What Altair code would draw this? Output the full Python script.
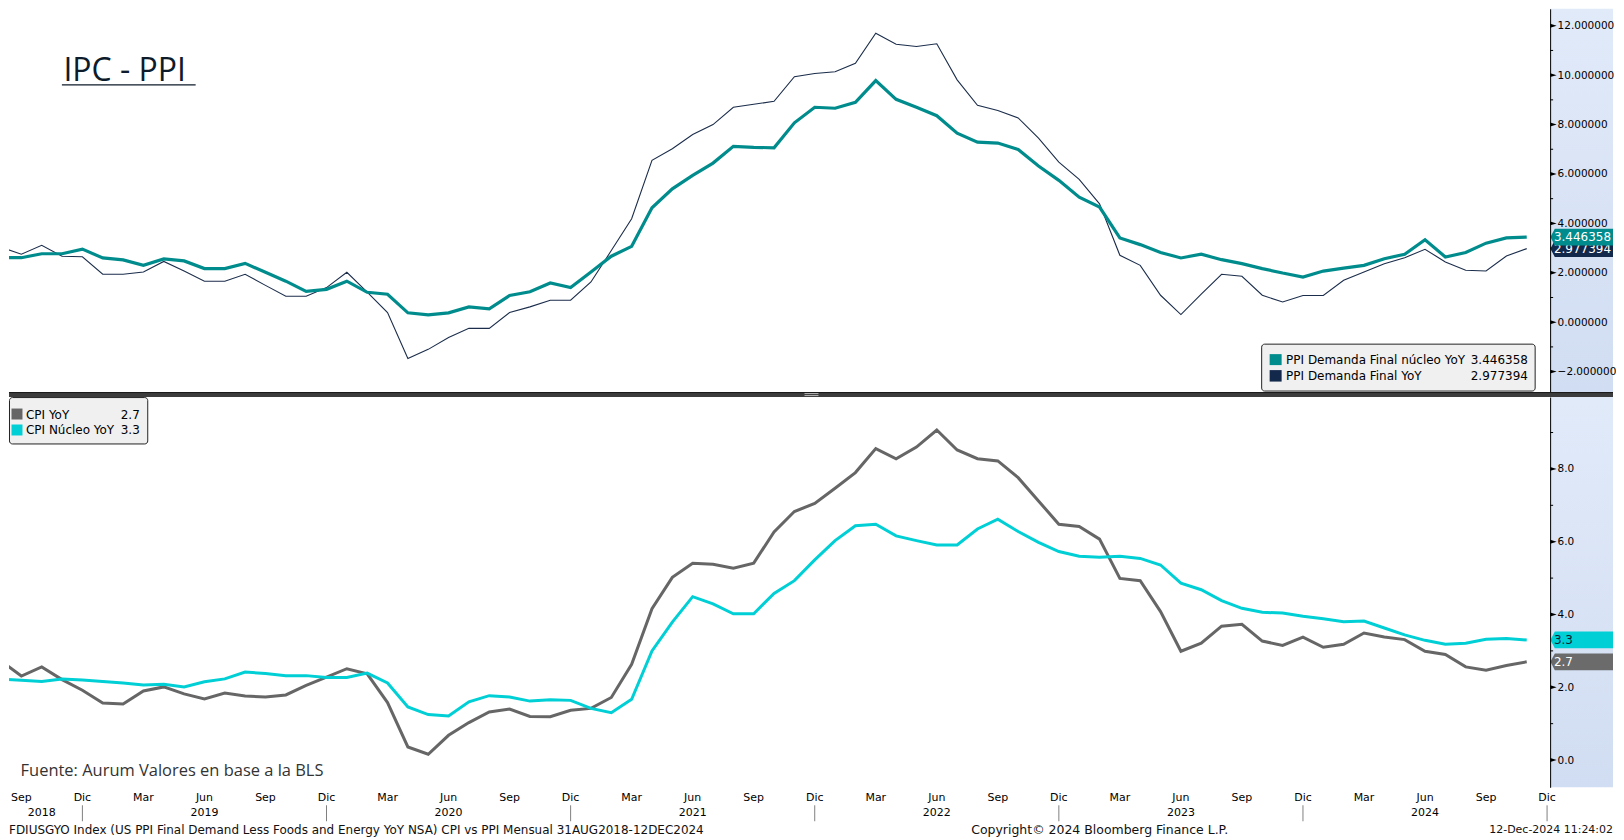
import altair as alt
import pandas as pd

# ---------------- data (monthly, Aug 2018 .. Nov 2024) ----------------
MONTHS_ES = ["Ene", "Feb", "Mar", "Abr", "May", "Jun", "Jul", "Ago", "Sep", "Oct", "Nov", "Dic"]
START_MONTH = 8  # first observation: Aug 2018

PPI_CORE = [2.61, 2.61, 2.77, 2.77, 2.96,
            2.60, 2.52, 2.30, 2.56, 2.48, 2.17, 2.17, 2.38, 2.02, 1.66, 1.25, 1.33,
            1.66, 1.21, 1.13, 0.38, 0.30, 0.38, 0.62, 0.54, 1.08, 1.23, 1.59, 1.40,
            2.03, 2.67, 3.07, 4.63, 5.40, 5.94, 6.44, 7.12, 7.08, 7.06, 8.07, 8.70,
            8.66, 8.90, 9.78, 9.02, 8.70, 8.36, 7.65, 7.29, 7.25, 6.99, 6.32, 5.74,
            5.06, 4.66, 3.41, 3.14, 2.82, 2.60, 2.75, 2.53, 2.37, 2.17, 1.99, 1.83,
            2.07, 2.19, 2.30, 2.57, 2.75, 3.34, 2.64, 2.82, 3.20, 3.41, 3.446358]
PPI_FD = [3.04, 2.75, 3.11, 2.67, 2.65,
          1.94, 1.94, 2.03, 2.46, 2.07, 1.66, 1.66, 1.94, 1.49, 1.05, 1.05, 1.40,
          2.02, 1.22, 0.39, -1.47, -1.10, -0.62, -0.25, -0.25, 0.39, 0.62, 0.89, 0.89,
          1.63, 2.90, 4.19, 6.55, 7.02, 7.60, 8.00, 8.70, 8.82, 8.94, 9.94, 10.07,
          10.14, 10.48, 11.70, 11.25, 11.16, 11.27, 9.81, 8.78, 8.57, 8.27, 7.45, 6.48,
          5.78, 4.79, 2.71, 2.30, 1.09, 0.31, 1.14, 1.94, 1.86, 1.09, 0.82, 1.08,
          1.08, 1.70, 2.03, 2.37, 2.61, 2.95, 2.44, 2.10, 2.07, 2.68, 2.977394]
CPI = [2.72, 2.31, 2.56, 2.21, 1.92,
       1.57, 1.54, 1.90, 2.01, 1.82, 1.68, 1.84, 1.76, 1.73, 1.79, 2.05, 2.28,
       2.51, 2.37, 1.58, 0.36, 0.16, 0.68, 1.03, 1.32, 1.40, 1.20, 1.19, 1.37,
       1.42, 1.72, 2.63, 4.16, 5.02, 5.41, 5.38, 5.27, 5.41, 6.27, 6.83, 7.05,
       7.47, 7.90, 8.56, 8.28, 8.60, 9.07, 8.52, 8.28, 8.22, 7.76, 7.12, 6.48,
       6.42, 6.07, 4.99, 4.93, 4.08, 2.99, 3.21, 3.68, 3.73, 3.27, 3.15, 3.38,
       3.10, 3.18, 3.49, 3.38, 3.31, 2.99, 2.90, 2.56, 2.47, 2.60, 2.7]
CPI_CORE = [2.23, 2.19, 2.16, 2.23, 2.20,
            2.16, 2.12, 2.06, 2.08, 2.01, 2.15, 2.23, 2.42, 2.38, 2.32, 2.32, 2.27,
            2.27, 2.39, 2.12, 1.46, 1.25, 1.21, 1.60, 1.77, 1.73, 1.62, 1.66, 1.64,
            1.42, 1.30, 1.67, 3.00, 3.79, 4.49, 4.29, 4.02, 4.02, 4.58, 4.93, 5.50,
            6.03, 6.44, 6.48, 6.16, 6.03, 5.91, 5.91, 6.35, 6.62, 6.28, 5.98, 5.73,
            5.60, 5.57, 5.60, 5.54, 5.36, 4.86, 4.68, 4.38, 4.17, 4.06, 4.04, 3.95,
            3.88, 3.80, 3.82, 3.63, 3.44, 3.29, 3.18, 3.21, 3.32, 3.34, 3.3]

SERIES_TOP = ["PPI Demanda Final núcleo YoY", "PPI Demanda Final YoY"]
SERIES_BOT = ["CPI YoY", "CPI Núcleo YoY"]

TICK_IDX = list(range(1, 77))                      # month ticks Sep 2018 .. Dic 2024
QUARTER_IDX = list(range(1, 77, 3))                # Sep, Dic, Mar, Jun ...
YEAR_LABELS = ["2018", "2019", "2020", "2021", "2022", "2023", "2024"]
YEAR_LABEL_IDX = [2, 10, 22, 34, 46, 58, 70]
YEAR_SEP_IDX = [4, 16, 28, 40, 52, 64, 76]
TOP_MAJOR = [-2, 0, 2, 4, 6, 8, 10, 12]
TOP_MINOR = [-1, 1, 3, 5, 7, 9, 11]
BOT_MAJOR = [0, 2, 4, 6, 8]
BOT_MINOR = [1, 3, 5, 7, 9]

TITLE = "IPC - PPI"
SOURCE = "Fuente: Aurum Valores en base a la BLS"
FOOT_LEFT = "FDIUSGYO Index (US PPI Final Demand Less Foods and Energy YoY NSA) CPI vs PPI  Mensual 31AUG2018-12DEC2024"
FOOT_MID = "Copyright\u00a9 2024 Bloomberg Finance L.P."
FOOT_RIGHT = "12-Dec-2024 11:24:02"

# ---------------- style ----------------
FONT = "DejaVu Sans"
TFONT = "Open Sans"
TEAL = "#008c8c"
NAVY = "#1b2d4b"
NAVY_TAG = "#13294b"
GRAY = "#666666"
CYAN = "#00cfd5"
W = 1544
H_TOP = 384
H_BOT = 391
RIGHT = 1607                                        # last usable x (page ~1615)
X_DOMAIN = [0.392, 76.15]
TOP_DOMAIN = [-2.828, 12.687]
BOT_DOMAIN = [-0.749, 9.975]
TAG_W = RIGHT - (W + 0.3)
TAG_PATH = "M -1 0 L -0.86 -0.267 L 1 -0.267 L 1 0.267 L -0.86 0.267 Z"
TRI_PATH = "M -1 -0.6 L 1 0 L -1 0.6 Z"

ONE = pd.DataFrame({"k": [0]})
xs = alt.Scale(domain=X_DOMAIN, nice=False, zero=False)
ys_top = alt.Scale(domain=TOP_DOMAIN, nice=False, zero=False)
ys_bot = alt.Scale(domain=BOT_DOMAIN, nice=False, zero=False)

blue_grad = alt.LinearGradient(
    gradient="linear", x1=0, x2=0, y1=0, y2=1,
    stops=[alt.GradientStop(color="#e1eaf9", offset=0),
           alt.GradientStop(color="#d1ddf2", offset=1)])


def yaxis(values, fmt):
    return alt.Axis(orient="right", values=values, format=fmt, ticks=False, labelPadding=7,
                    domainColor="black", domainWidth=1, labelColor="black", labelFont=FONT,
                    labelFontSize=10.5, grid=False, title=None, zindex=1, labelOverlap=False)


yax_top = yaxis(TOP_MAJOR, ".6f")
yax_bot = yaxis(BOT_MAJOR, ".1f")

xax_bot = alt.Axis(values=TICK_IDX, labels=False, tickSize=4, tickColor="black",
                   domainColor="black", grid=False, title=None)

quarter_labels = [MONTHS_ES[(START_MONTH - 1 + i) % 12] for i in QUARTER_IDX]


def rect_px(x, x2, y, y2, **kw):
    return alt.Chart(ONE).mark_rect(**kw).encode(
        x=alt.value(x), x2=alt.value(x2), y=alt.value(y), y2=alt.value(y2))


def text_px(txt, x, y, **kw):
    return alt.Chart(ONE).mark_text(**kw).encode(
        x=alt.value(x), y=alt.value(y), text=alt.value(txt))


def rule_px(x, x2, y, y2, **kw):
    return alt.Chart(ONE).mark_rule(**kw).encode(
        x=alt.value(x), x2=alt.value(x2), y=alt.value(y), y2=alt.value(y2))


def axis_marks(minor, major, ys, yax):
    mn = alt.Chart(pd.DataFrame({"t": minor})).mark_rule(color="black", strokeWidth=1).encode(
        x=alt.value(W), x2=alt.value(W + 3), y=alt.Y("t:Q", scale=ys, axis=yax))
    mj = alt.Chart(pd.DataFrame({"t": major})).mark_point(
        shape=TRI_PATH, size=42, filled=True, color="black", opacity=1, strokeWidth=0).encode(
        x=alt.value(W + 3.3), y=alt.Y("t:Q", scale=ys, axis=yax))
    return [mn, mj]


def tag(value, fill, txtcolor, fmt, ys, yax):
    d = pd.DataFrame({"v": [value]})
    p = alt.Chart(d).mark_point(shape=TAG_PATH, size=TAG_W ** 2, filled=True, color=fill,
                                opacity=1, strokeWidth=0).encode(
        x=alt.value(W + 0.3 + TAG_W / 2), y=alt.Y("v:Q", scale=ys, axis=yax))
    t = alt.Chart(d).mark_text(align="left", baseline="middle", font=FONT, fontSize=12,
                               color=txtcolor).encode(
        x=alt.value(W + 3.8), y=alt.Y("v:Q", scale=ys, axis=yax),
        text=alt.Text("v:Q", format=fmt))
    return [p, t]


# ---------------- top panel (PPI) ----------------
df_top = pd.DataFrame({"i": list(range(len(PPI_CORE))), "core": PPI_CORE, "fd": PPI_FD})

navy_line = alt.Chart(df_top).mark_line(color=NAVY, strokeWidth=1.1, clip=True).encode(
    x=alt.X("i:Q", scale=xs, axis=None), y=alt.Y("fd:Q", scale=ys_top, axis=yax_top))
teal_line = alt.Chart(df_top).mark_line(color=TEAL, strokeWidth=3.2, clip=True).encode(
    x=alt.X("i:Q", scale=xs, axis=None), y=alt.Y("core:Q", scale=ys_top, axis=yax_top))

top_layers = [
    rect_px(W, RIGHT, 0, H_TOP, fill=blue_grad),
    navy_line, teal_line,
    rect_px(1255, 1529, 336, 383, fill="#f0f0f0", stroke="#222222", strokeWidth=1, cornerRadius=3),
    rect_px(1263, 1275, 346, 357, fill=TEAL),
    rect_px(1263, 1275, 362, 373.5, fill=NAVY_TAG),
    text_px(SERIES_TOP[0], 1279.5, 352, align="left", baseline="middle", font=FONT, fontSize=12, color="black"),
    text_px(SERIES_TOP[1], 1279.5, 368, align="left", baseline="middle", font=FONT, fontSize=12, color="black"),
    text_px(f"{PPI_CORE[-1]:.6f}", 1521.7, 352, align="right", baseline="middle", font=FONT, fontSize=12, color="black"),
    text_px(f"{PPI_FD[-1]:.6f}", 1521.7, 368, align="right", baseline="middle", font=FONT, fontSize=12, color="black"),
    text_px(TITLE, 54.5, 72, align="left", baseline="alphabetic", font=TFONT, fontSize=32, color="#0d1b2a"),
    rule_px(53, 187, 76.3, 76.3, color="#0d1b2a", strokeWidth=1.3),
] + axis_marks(TOP_MINOR, TOP_MAJOR, ys_top, yax_top) \
  + tag(PPI_FD[-1], NAVY_TAG, "white", ".6f", ys_top, yax_top) \
  + tag(PPI_CORE[-1], TEAL, "white", ".6f", ys_top, yax_top)

top = alt.layer(*top_layers).properties(width=W, height=H_TOP)

# ---------------- bottom panel (CPI) ----------------
df_bot = pd.DataFrame({"i": list(range(len(CPI))), "cpi": CPI, "core": CPI_CORE})

gray_line = alt.Chart(df_bot).mark_line(color=GRAY, strokeWidth=3, clip=True).encode(
    x=alt.X("i:Q", scale=xs, axis=xax_bot), y=alt.Y("cpi:Q", scale=ys_bot, axis=yax_bot))
cyan_line = alt.Chart(df_bot).mark_line(color=CYAN, strokeWidth=3, clip=True).encode(
    x=alt.X("i:Q", scale=xs, axis=xax_bot), y=alt.Y("core:Q", scale=ys_bot, axis=yax_bot))

months = alt.Chart(pd.DataFrame({"i": QUARTER_IDX, "m": quarter_labels})).mark_text(
    baseline="middle", font=FONT, fontSize=11, color="black").encode(
    x=alt.X("i:Q", scale=xs, axis=None), y=alt.value(H_BOT + 10.5), text="m:N")
years = alt.Chart(pd.DataFrame({"i": YEAR_LABEL_IDX, "y": YEAR_LABELS})).mark_text(
    baseline="middle", font=FONT, fontSize=11, color="black").encode(
    x=alt.X("i:Q", scale=xs, axis=None), y=alt.value(H_BOT + 26), text="y:N")
year_seps = alt.Chart(pd.DataFrame({"i": YEAR_SEP_IDX})).mark_rule(color="#7f7f7f", strokeWidth=1).encode(
    x=alt.X("i:Q", scale=xs, axis=None), y=alt.value(H_BOT + 18), y2=alt.value(H_BOT + 34))

bot_layers = [
    rect_px(W, RIGHT, 0, H_BOT, fill=blue_grad),
    gray_line, cyan_line,
    rect_px(0, RIGHT, -5, 0, fill="#3c3c3c"),
    rule_px(0, RIGHT, -4.5, -4.5, color="#1a1a1a", strokeWidth=1),
    rule_px(797, 811, -3.5, -3.5, color="#b4b4b4", strokeWidth=1),
    rule_px(797, 811, -1.5, -1.5, color="#b4b4b4", strokeWidth=1),
    rect_px(0.5, 139, 0.5, 47, fill="#f0f0f0", stroke="#222222", strokeWidth=1, cornerRadius=3),
    rect_px(2.5, 13.5, 11.5, 22.5, fill=GRAY),
    rect_px(2.5, 13.5, 27.5, 38.5, fill=CYAN),
    text_px(SERIES_BOT[0], 17, 17.5, align="left", baseline="middle", font=FONT, fontSize=12, color="black"),
    text_px(SERIES_BOT[1], 17, 33.5, align="left", baseline="middle", font=FONT, fontSize=12, color="black"),
    text_px(f"{CPI[-1]:.1f}", 131, 17.5, align="right", baseline="middle", font=FONT, fontSize=12, color="black"),
    text_px(f"{CPI_CORE[-1]:.1f}", 131, 33.5, align="right", baseline="middle", font=FONT, fontSize=12, color="black"),
    text_px(SOURCE, 11.6, 379.7, align="left", baseline="alphabetic", font=TFONT, fontSize=16.5, color="#333333"),
    months, years, year_seps,
    text_px(FOOT_LEFT, 0, H_BOT + 43, align="left", baseline="middle", font=FONT, fontSize=12, color="#111111"),
    text_px(FOOT_MID, 964, H_BOT + 43, align="left", baseline="middle", font=FONT, fontSize=12.5, color="#111111"),
    text_px(FOOT_RIGHT, RIGHT, H_BOT + 43, align="right", baseline="middle", font=FONT, fontSize=11, color="#111111"),
] + axis_marks(BOT_MINOR, BOT_MAJOR, ys_bot, yax_bot) \
  + tag(CPI_CORE[-1], CYAN, "#0b2233", ".1f", ys_bot, yax_bot) \
  + tag(CPI[-1], "#6b6b6b", "white", ".1f", ys_bot, yax_bot)

bottom = alt.layer(*bot_layers).properties(width=W, height=H_BOT)

chart = alt.vconcat(top, bottom, spacing=5, bounds="flush").properties(
    padding=0, background="white",
).configure_view(stroke=None, strokeWidth=0)

chart.save("out.html", embed_options={"renderer": "svg", "actions": False})
